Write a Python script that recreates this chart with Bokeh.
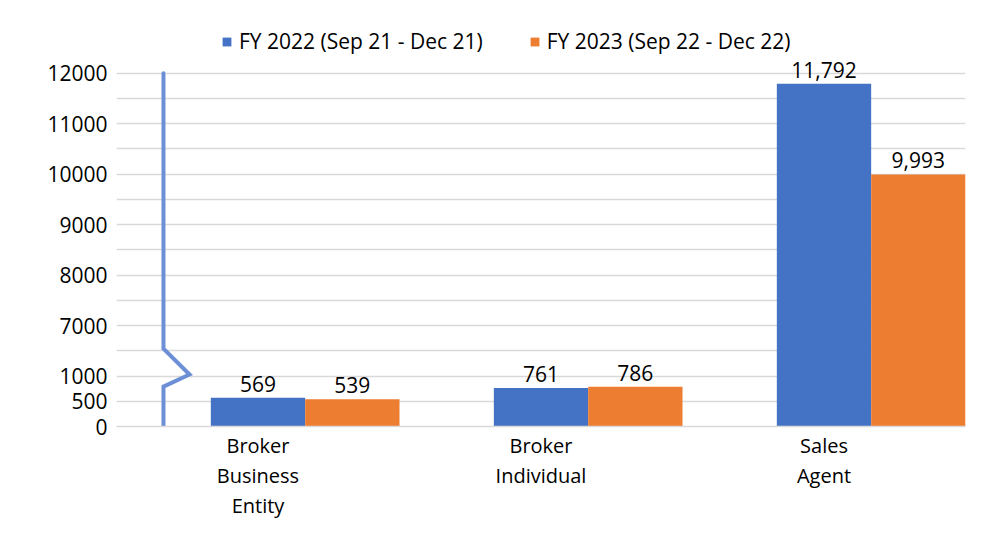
from bokeh.plotting import figure
from bokeh.models import ColumnDataSource, FactorRange, FixedTicker, Legend, LegendItem
from bokeh.transform import dodge
from bokeh.core.properties import value
from bokeh.embed import file_html
from bokeh.resources import INLINE

# ---- data ----
categories = ["Broker\nBusiness\nEntity", "Broker\nIndividual", "Sales\nAgent"]
fy2022 = [569, 761, 11792]
fy2023 = [539, 786, 9993]
series_names = ["FY 2022 (Sep 21 - Dec 21)", "FY 2023 (Sep 22 - Dec 22)"]
lower_ticks = [0, 500, 1000]
upper_ticks = [7000, 8000, 9000, 10000, 11000, 12000]
grid_step = 500

# ---- broken axis mapping ----
BREAK_LOW = 1000     # last value shown below the break
BREAK_HIGH = 7000    # first value shown above the break
GAP = 1000           # space (in value units) the break occupies on screen


def tf(v):
    return v if v <= BREAK_LOW else v - (BREAK_HIGH - BREAK_LOW - GAP)


Y_TOP = tf(max(upper_ticks))
FONT = "Open Sans"
BLUE = "#4472C4"
ORANGE = "#ED7D31"
GRID = "#D9D9D9"

src = ColumnDataSource(dict(
    cat=categories,
    t22=[tf(v) for v in fy2022],
    t23=[tf(v) for v in fy2023],
    l22=[f"{v:,}" for v in fy2022],
    l23=[f"{v:,}" for v in fy2023],
))

p = figure(width=968, height=521, output_backend="svg", toolbar_location=None,
           x_range=FactorRange(*categories, range_padding=0, factor_padding=0),
           y_range=(0, 8242),
           min_border_left=116, min_border_right=3, min_border_top=10, min_border_bottom=93)
p.outline_line_color = None
p.background_fill_color = "white"
p.border_fill_color = "white"

bw = 1 / 3
r1 = p.vbar(x=dodge("cat", 0.0, range=p.x_range), top="t22", width=bw, source=src,
            fill_color=BLUE, line_color=None)
r2 = p.vbar(x=dodge("cat", bw, range=p.x_range), top="t23", width=bw, source=src,
            fill_color=ORANGE, line_color=None)

p.text(x=dodge("cat", 0.0, range=p.x_range), y="t22", text="l22", source=src,
       text_align="center", text_baseline="alphabetic", y_offset=-14,
       text_font=value(FONT), text_font_size="21px", text_color="black")
p.text(x=dodge("cat", bw, range=p.x_range), y="t23", text="l23", source=src,
       text_align="center", text_baseline="alphabetic", y_offset=-14,
       text_font=value(FONT), text_font_size="21px", text_color="black")

# break marker on the value axis
bx = 0.166
bend = 0.258
brk_x = [bx, bx, bend, bx, bx]
brk_y = [Y_TOP, BREAK_LOW + GAP * 0.54, BREAK_LOW + GAP * 0.03, BREAK_LOW - 210, 0]
p.line(brk_x, brk_y, line_color="#6C8FD5", line_width=4, line_cap="round", line_join="miter")

# y axis
all_ticks = list(range(0, Y_TOP + 1, grid_step))
labels = {t: "" for t in all_ticks}
for v in lower_ticks + upper_ticks:
    labels[tf(v)] = str(v)
p.yaxis.ticker = FixedTicker(ticks=all_ticks)
p.yaxis.major_label_overrides = labels
p.yaxis.axis_line_color = None
p.yaxis.major_tick_line_color = None
p.yaxis.minor_tick_line_color = None
p.yaxis.major_tick_out = 0
p.yaxis.major_label_standoff = 9
p.yaxis.major_label_text_font = FONT
p.yaxis.major_label_text_font_size = "21px"
p.yaxis.major_label_text_color = "black"
p.ygrid.ticker = FixedTicker(ticks=all_ticks)
p.ygrid.grid_line_color = GRID
p.ygrid.grid_line_width = 1.5
p.xgrid.grid_line_color = None

# x axis
p.xaxis.axis_line_color = GRID
p.xaxis.axis_line_width = 1.5
p.xaxis.major_tick_line_color = None
p.xaxis.minor_tick_line_color = None
p.xaxis.major_tick_out = 0
p.xaxis.major_label_standoff = 5
p.xaxis.major_label_text_font = FONT
p.xaxis.major_label_text_font_size = "20px"
p.xaxis.major_label_text_line_height = 1.12
p.xaxis.major_label_text_color = "black"

legend = Legend(items=[LegendItem(label=series_names[0], renderers=[r1]),
                       LegendItem(label=series_names[1], renderers=[r2])],
                orientation="horizontal", location=(105, 371),
                glyph_width=11, glyph_height=11, label_standoff=7, spacing=46,
                padding=0, margin=0, border_line_color=None, background_fill_alpha=0,
                label_text_font=FONT, label_text_font_size="21px", label_text_color="black")
p.add_layout(legend, "center")

open("out.html", "w").write(file_html(p, INLINE))
